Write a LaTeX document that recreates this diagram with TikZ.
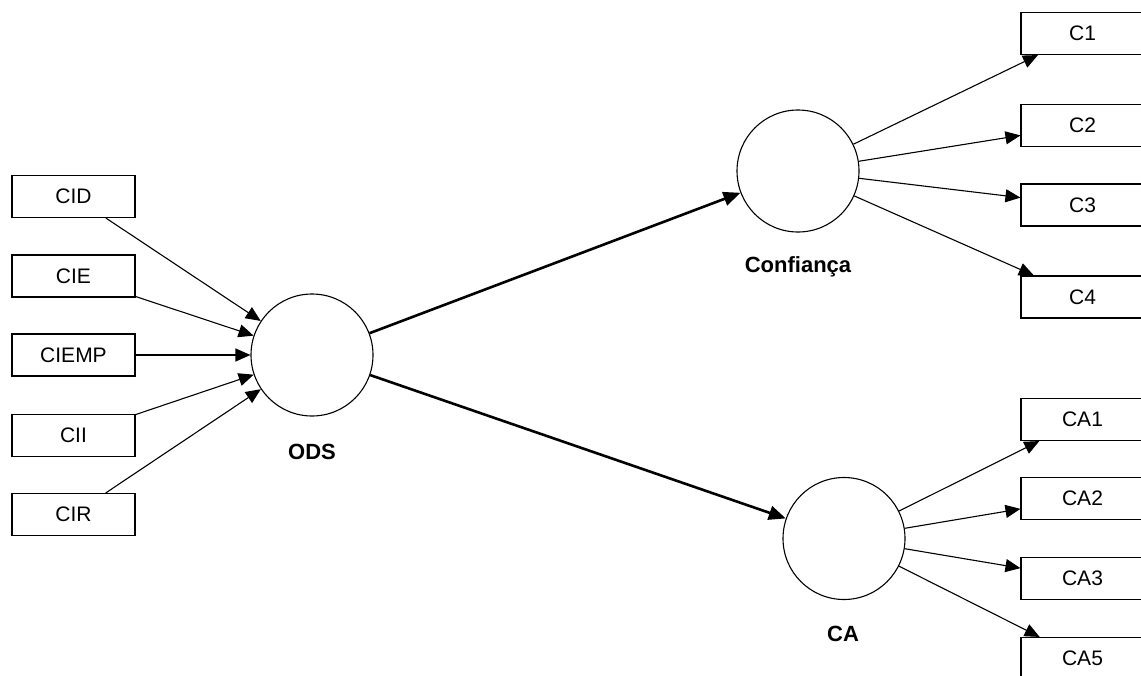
\documentclass[tikz,border=0pt]{standalone}
\usepackage{fontspec}
\setmainfont{Liberation Sans}
\usetikzlibrary{arrows.meta}
\begin{document}
\begin{tikzpicture}[x=1pt, y=-1pt,
  indicator/.style={draw, line width=1.1pt, minimum width=123pt, minimum height=42pt,
    inner sep=0pt, font=\fontsize{21}{25}\selectfont},
  latent/.style={draw, circle, line width=1.1pt, minimum size=122pt, inner sep=0pt},
  latentlabel/.style={font=\fontsize{22}{26}\selectfont\bfseries},
  thin arrow/.style={line width=1.1pt, -{Triangle[length=15pt,width=13pt]}},
  thick arrow/.style={line width=2.6pt, -{Triangle[length=17pt,width=14pt]}}]
  \useasboundingbox (0,0) rectangle (1141,675);
  \clip (0,0) rectangle (1141,675);
  \fill[white] (0,0) rectangle (1141,675);

  % formative indicators of ODS
  \node[indicator] (cid)   at (73.5,196.5) {CID};
  \node[indicator] (cie)   at (73.5,276)   {CIE};
  \node[indicator] (ciemp) at (73.5,355)   {CIEMP};
  \node[indicator] (cii)   at (73.5,435.5) {CII};
  \node[indicator] (cir)   at (73.5,514.5) {CIR};

  % latent constructs
  \node[latent] (ods)  at (312,355) {};
  \node[latentlabel] (odsl) at (312,452) {ODS};
  \node[latent] (conf) at (798,171) {};
  \node[latentlabel] (confl) at (798,267) {Confiança};
  \node[latent] (ca)   at (844,538.5) {};
  \node[latentlabel] (cal) at (843,634) {CA};

  % reflective indicators
  \node[indicator] (c1)  at (1082.5,33.5)  {C1};
  \node[indicator] (c2)  at (1082.5,125.5) {C2};
  \node[indicator] (c3)  at (1082.5,205)   {C3};
  \node[indicator] (c4)  at (1082.5,297)   {C4};
  \node[indicator] (ca1) at (1082.5,419.5) {CA1};
  \node[indicator] (ca2) at (1082.5,498.5) {CA2};
  \node[indicator] (ca3) at (1082.5,578.5) {CA3};
  \node[indicator] (ca5) at (1082.5,658.5) {CA5};

  % connectors
  \foreach \s in {cid,cie,ciemp,cii,cir}
    \draw[thin arrow] (\s) -- (ods);
  \draw[thick arrow] (ods) -- (conf);
  \draw[thick arrow] (ods) -- (ca);
  \foreach \t in {c1,c2,c3,c4}
    \draw[thin arrow] (conf) -- (\t);
  \foreach \t in {ca1,ca2,ca3,ca5}
    \draw[thin arrow] (ca) -- (\t);
\end{tikzpicture}
\end{document}
